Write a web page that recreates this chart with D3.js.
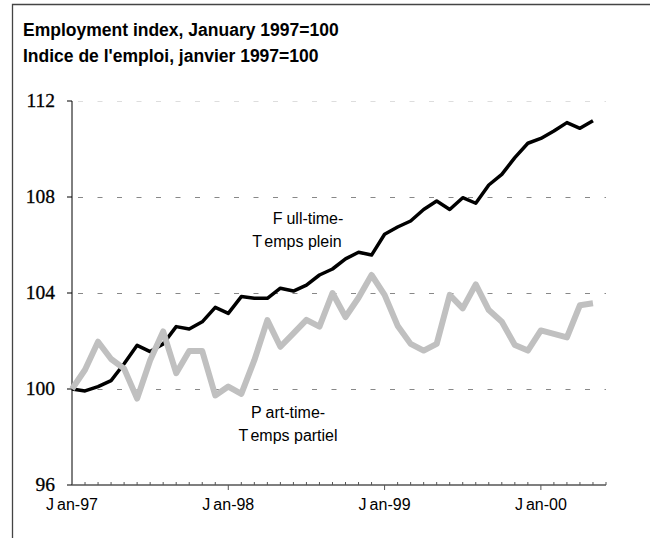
<!DOCTYPE html>
<html>
<head>
<meta charset="utf-8">
<script src="https://cdn.jsdelivr.net/npm/d3@7"></script>
<style>
  body { margin: 0; background: #fff; }
  svg { display: block; }
  .title { font-family: "Liberation Sans", Arial, sans-serif; font-weight: bold; font-size: 17.5px; fill: #000; }
  .ylab { font-family: "Liberation Serif", "Times New Roman", serif; font-size: 19.5px; fill: #000; stroke: #000; stroke-width: 0.3px; }
  .xlab { font-family: "Liberation Sans", Arial, sans-serif; font-size: 16px; fill: #000; }
  .note { font-family: "Liberation Sans", Arial, sans-serif; font-size: 16px; fill: #000; }
</style>
</head>
<body>
<svg class="chart"></svg>
<script>
// months from Jan-97 (index 0) to May-00 (index 40)
const monthCount = 41
const yTicks = [96, 100, 104, 108, 112]
const xTickLabels = ['Jan-97', 'Jan-98', 'Jan-99', 'Jan-00']
const fullTime = [100.0, 99.92, 100.1, 100.35, 101.05, 101.82, 101.56, 101.88, 102.6, 102.5,
  102.8, 103.4, 103.15, 103.85, 103.78, 103.78, 104.2, 104.08, 104.33, 104.75,
  105.0, 105.42, 105.7, 105.58, 106.45, 106.75, 107.0, 107.48, 107.83, 107.48,
  107.97, 107.74, 108.5, 108.94, 109.64, 110.24, 110.44, 110.75, 111.1, 110.86, 111.18]
const partTime = [100.0, 100.8, 101.97, 101.25, 100.85, 99.6, 101.2, 102.4, 100.66, 101.58,
  101.58, 99.73, 100.1, 99.8, 101.2, 102.87, 101.76, 102.32, 102.88, 102.6,
  104.0, 103.0, 103.8, 104.75, 103.92, 102.64, 101.88, 101.6, 101.88, 103.92,
  103.36, 104.36, 103.29, 102.8, 101.83, 101.6, 102.44, 102.3, 102.15, 103.49, 103.57]

const width = 650
const height = 538

const chart = d3.select('.chart')
  .attr('width', width)
  .attr('height', height)

// frame
chart.append('path')
  .attr('d', `M12.5,${height}V4.5H${width}`)
  .attr('fill', 'none')
  .attr('stroke', '#444')
  .attr('stroke-width', 1.3)

chart.append('text').attr('class', 'title').attr('x', 23).attr('y', 36)
  .text('Employment index, January 1997=100')
chart.append('text').attr('class', 'title').attr('x', 23).attr('y', 62)
  .text("Indice de l'emploi, janvier 1997=100")

const xScale = d3.scaleLinear()
  .domain([0, monthCount])
  .range([72, 606])

const yScale = d3.scaleLinear()
  .domain([96, 112])
  .range([485, 101])

// gridlines
chart.append('g').attr('class', 'grid')
  .selectAll('line')
  .data(yTicks.filter(v => v > 96))
  .enter()
  .append('line')
  .attr('x1', xScale(0) + 6)
  .attr('x2', xScale(monthCount))
  .attr('y1', v => Math.round(yScale(v)) + 0.5)
  .attr('y2', v => Math.round(yScale(v)) + 0.5)
  .attr('stroke', v => v === 112 ? '#ddd' : '#888')
  .attr('stroke-width', 1.2)
  .attr('stroke-dasharray', '5,14.5')

// y axis
const yAxis = chart.append('g').attr('transform', `translate(${xScale(0)},0)`)
yAxis.append('line')
  .attr('y1', yScale(112)).attr('y2', yScale(96))
  .attr('stroke', '#000').attr('stroke-width', 1)
yAxis.selectAll('g')
  .data(yTicks)
  .enter()
  .append('g')
  .attr('transform', v => `translate(0,${yScale(v)})`)
  .each((v, i, nodes) => {
    const g = d3.select(nodes[i])
    g.append('line').attr('x1', -5).attr('x2', 0).attr('stroke', '#000')
    g.append('text').attr('class', 'ylab')
      .attr('x', -17).attr('dy', '0.33em')
      .attr('text-anchor', 'end')
      .text(v)
  })

// x axis
const xAxis = chart.append('g').attr('transform', `translate(0,${yScale(96)})`)
xAxis.append('line')
  .attr('x1', xScale(0)).attr('x2', xScale(monthCount))
  .attr('stroke', '#555').attr('stroke-width', 1.3)
xAxis.selectAll('.minor')
  .data(d3.range(1, monthCount + 1).filter(m => m % 12 !== 0))
  .enter()
  .append('line')
  .attr('x1', m => xScale(m)).attr('x2', m => xScale(m))
  .attr('y1', -3).attr('y2', 0)
  .attr('stroke', '#555')
xAxis.selectAll('.major')
  .data(d3.range(12, monthCount, 12))
  .enter()
  .append('line')
  .attr('x1', m => xScale(m)).attr('x2', m => xScale(m))
  .attr('y1', 0).attr('y2', 5)
  .attr('stroke', '#555')

const splitFirst = (sel, str, gap) => {
  sel.append('tspan').text(str[0])
  sel.append('tspan').attr('dx', gap).text(str.slice(1))
}

xAxis.selectAll('text')
  .data(xTickLabels)
  .enter()
  .append('text')
  .attr('class', 'xlab')
  .attr('x', (d, i) => xScale(i * 12))
  .attr('y', 25)
  .attr('text-anchor', 'middle')
  .each((d, i, nodes) => splitFirst(d3.select(nodes[i]), d, 3))

// series
const line = d3.line()
  .x((d, i) => xScale(i))
  .y(d => yScale(d))

chart.append('path')
  .datum(fullTime)
  .attr('d', line)
  .attr('fill', 'none')
  .attr('stroke', '#000')
  .attr('stroke-width', 3.5)
  .attr('stroke-linejoin', 'round')

chart.append('path')
  .datum(partTime)
  .attr('d', line)
  .attr('fill', 'none')
  .attr('stroke', '#c0c0c0')
  .attr('stroke-width', 6)
  .attr('stroke-linejoin', 'round')

// series labels
const notes = [
  { text: 'Full-time-', x: 308, y: 224 },
  { text: 'Temps plein', x: 297, y: 247 },
  { text: 'Part-time-', x: 288, y: 418 },
  { text: 'Temps partiel', x: 288, y: 441 }
]
chart.append('g')
  .selectAll('text')
  .data(notes)
  .enter()
  .append('text')
  .attr('class', 'note')
  .attr('x', d => d.x)
  .attr('y', d => d.y)
  .attr('text-anchor', 'middle')
  .each((d, i, nodes) => splitFirst(d3.select(nodes[i]), d.text, 4))
</script>
</body>
</html>
